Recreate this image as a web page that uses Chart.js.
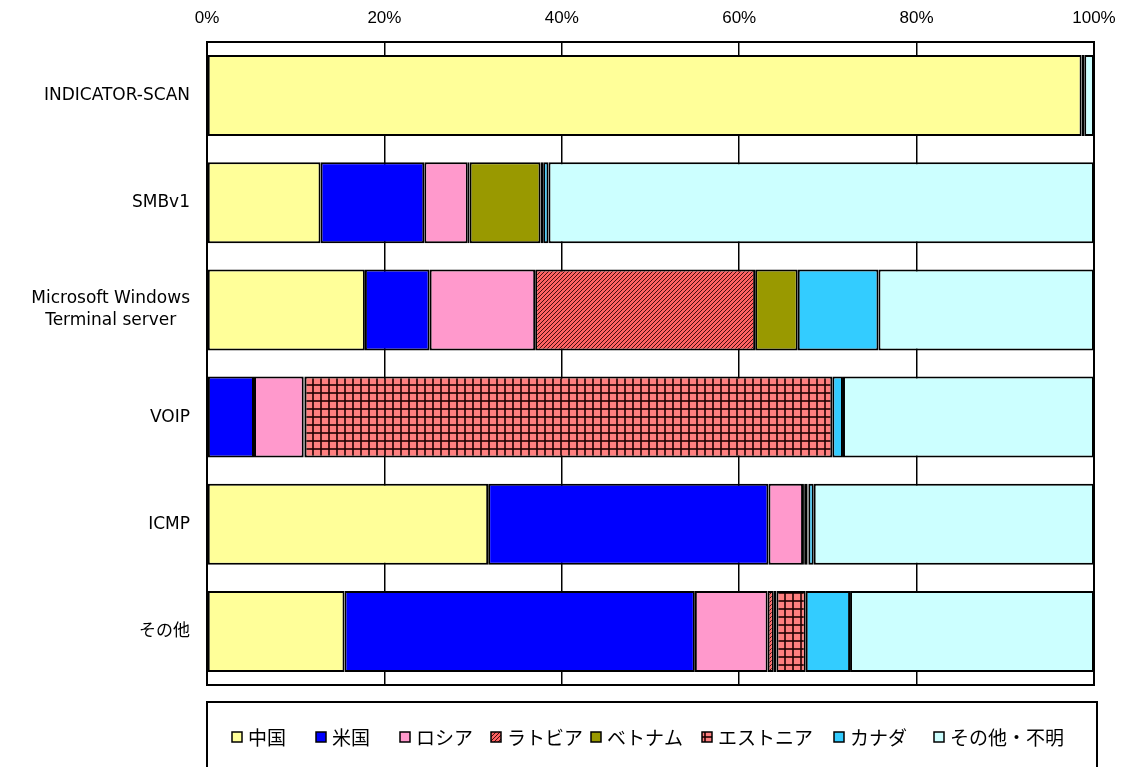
<!DOCTYPE html>
<html lang="ja">
<head>
<meta charset="utf-8">
<title>送信元国別の割合</title>
<script src="https://cdn.jsdelivr.net/npm/chart.js@4.4.0/dist/chart.umd.min.js"></script>
<style>
  html, body { margin: 0; padding: 0; background: #fff; }
  #wrap { width: 1126px; height: 767px; }
</style>
</head>
<body>
<div id="wrap"><canvas id="c" width="1126" height="767"></canvas></div>
<script>
// Categories (multi-line names given as arrays)
const categories = ['INDICATOR-SCAN', 'SMBv1', ['Microsoft Windows', 'Terminal server'], 'VOIP', 'ICMP', 'その他'];

// Share per country, percent (null = no share)
const china    = [98.6, 12.8, 17.8,  0.1, 31.7, 15.5];
const usa      = [ 0.3, 11.7,  7.3,  5.2, 31.6, 39.5];
const russia   = [null,  4.9, 11.9,  5.6,  3.9,  8.2];
const latvia   = [null,  0.2, 24.8,  0.1,  0.2,  0.7];
const vietnam  = [null,  8.0,  4.8, null,  0.3,  0.3];
const estonia  = [null,  0.3, null, 59.5,  0.1,  3.3];
const canada   = [null,  0.6,  9.1,  1.2,  0.6,  5.0];
const others   = [ 1.1, 61.5, 24.3, 28.3, 31.6, 27.5];

const seriesNames = ['中国', '米国', 'ロシア', 'ラトビア', 'ベトナム', 'エストニア', 'カナダ', 'その他・不明'];

// Axis tick values
const tickValues = [0, 20, 40, 60, 80, 100];

// Hatched fill: dense diagonal stripes
function stripePattern() {
  const p = document.createElement('canvas');
  p.width = 4; p.height = 4;
  const g = p.getContext('2d');
  g.fillStyle = '#ff6262';
  g.fillRect(0, 0, 4, 4);
  g.fillStyle = 'rgba(40,0,0,0.85)';
  for (let i = 0; i < 4; i++) g.fillRect(i, 3 - i, 1, 1);
  return g.createPattern(p, 'repeat');
}
// Checkered fill: fine dark grid over salmon
function gridPattern() {
  const p = document.createElement('canvas');
  p.width = 8; p.height = 8;
  const g = p.getContext('2d');
  g.fillStyle = '#ff8080';
  g.fillRect(0, 0, 8, 8);
  g.fillStyle = 'rgba(30,0,0,0.8)';
  g.fillRect(0, 0, 8, 2);
  g.fillRect(0, 0, 2, 8);
  return g.createPattern(p, 'repeat');
}

const fills = ['#ffff99', '#0000ff', '#ff99cc', stripePattern(), '#999900', gridPattern(), '#33ccff', '#ccffff'];
const values = [china, usa, russia, latvia, vietnam, estonia, canada, others];

const datasets = seriesNames.map((name, i) => ({
  label: name,
  data: values[i],
  backgroundColor: fills[i],
  borderColor: '#000',
  borderWidth: 2,
  borderSkipped: false,
  categoryPercentage: 0.756,
  barPercentage: 1
}));

const FONT_CJK = '"Noto Sans CJK JP", "Noto Sans", sans-serif';

// Plot frame drawn beneath the bars
const frame = {
  id: 'frame',
  beforeDatasetsDraw(chart) {
    const { ctx, chartArea: a } = chart;
    ctx.save();
    ctx.strokeStyle = '#000';
    ctx.lineWidth = 2;
    ctx.strokeRect(a.left, a.top, a.right - a.left, a.bottom - a.top);
    ctx.restore();
  }
};

// Category names: right-aligned block, lines centred on one another
const categoryLabels = {
  id: 'categoryLabels',
  afterDraw(chart) {
    const { ctx } = chart;
    const y = chart.scales.y;
    ctx.save();
    ctx.fillStyle = '#000';
    ctx.font = '17px "DejaVu Sans", "Noto Sans CJK JP", sans-serif';
    ctx.textBaseline = 'middle';
    ctx.textAlign = 'center';
    const right = 190, lh = 22;
    categories.forEach((c, i) => {
      const lines = Array.isArray(c) ? c : [c];
      const w = Math.max(...lines.map(l => ctx.measureText(l).width));
      const cx = right - w / 2;
      const cy = y.getPixelForValue(i);
      lines.forEach((l, k) => {
        ctx.fillText(l, cx, cy + (k - (lines.length - 1) / 2) * lh);
      });
    });
    ctx.restore();
  }
};

// Boxed legend below the plot
const boxedLegend = {
  id: 'boxedLegend',
  afterDraw(chart) {
    const { ctx, chartArea: a } = chart;
    const top = a.bottom + 17;
    ctx.save();
    ctx.strokeStyle = '#000';
    ctx.lineWidth = 2;
    ctx.strokeRect(a.left, top, a.right - a.left + 3, 80);
    const slots = [232, 316, 400, 491, 591, 702, 834, 934];
    const cy = top + 35;
    ctx.font = '19px ' + FONT_CJK;
    ctx.textBaseline = 'middle';
    ctx.textAlign = 'left';
    chart.data.datasets.forEach((ds, i) => {
      const x = slots[i];
      ctx.fillStyle = ds.backgroundColor;
      ctx.fillRect(x, cy - 5, 10, 10);
      ctx.lineWidth = 1.5;
      ctx.strokeStyle = '#000';
      ctx.strokeRect(x, cy - 5, 10, 10);
      ctx.fillStyle = '#000';
      ctx.fillText(ds.label, x + 16, cy + 1);
    });
    ctx.restore();
  }
};

new Chart(document.getElementById('c'), {
  type: 'bar',
  data: { labels: categories, datasets },
  options: {
    indexAxis: 'y',
    responsive: false,
    animation: false,
    layout: { padding: { top: 0, left: 0, right: 32, bottom: 82 } },
    plugins: { legend: { display: false }, tooltip: { enabled: false } },
    scales: {
      x: {
        position: 'top',
        stacked: true,
        min: 0,
        max: 100,
        afterBuildTicks(scale) { scale.ticks = tickValues.map(v => ({ value: v })); },
        afterFit(scale) {
          scale.height = 42;
          scale.paddingLeft = 0;
          scale.paddingRight = 0;
        },
        ticks: {
          color: '#000',
          padding: 13,
          font: { family: '"Liberation Sans Narrow", "Liberation Sans", Arial, sans-serif', size: 17 },
          callback: v => v + '%'
        },
        grid: { color: '#000', lineWidth: 1.5, drawTicks: false },
        border: { color: '#000', width: 2 }
      },
      y: {
        stacked: true,
        afterFit(scale) { scale.width = 207; },
        ticks: { display: false },
        grid: { display: false },
        border: { color: '#000', width: 2 }
      }
    }
  },
  plugins: [frame, categoryLabels, boxedLegend]
});
</script>
</body>
</html>
